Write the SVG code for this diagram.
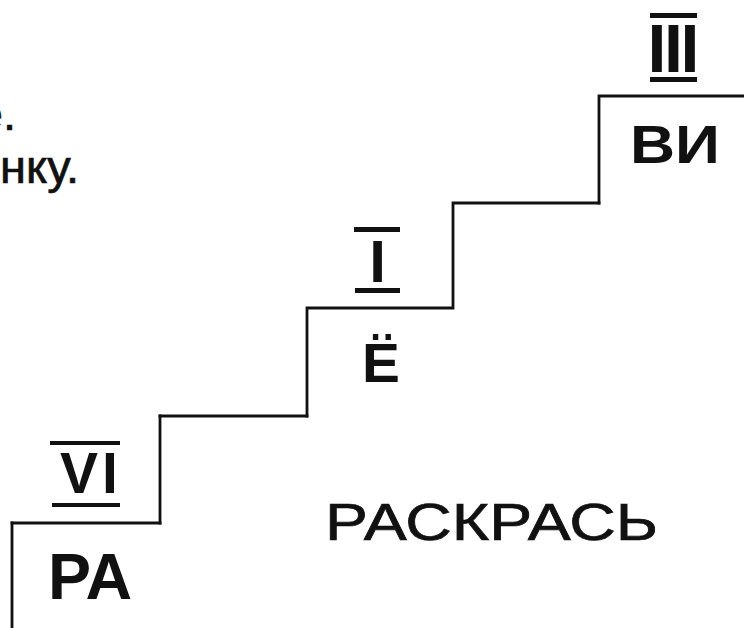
<svg xmlns="http://www.w3.org/2000/svg" width="744" height="628" viewBox="0 0 744 628">
  <style>
    .stair { fill: none; stroke: #111; stroke-width: 2.8; stroke-linecap: square; }
    .dotted { stroke-dasharray: 5 3; }
    .bar { fill: #111; }
    .num { font-family: "Liberation Sans", Arial, sans-serif; font-weight: bold; fill: #111; }
    .syl { font-family: "Liberation Sans", Arial, sans-serif; font-weight: bold; fill: #111; }
    .plain { font-family: "Liberation Sans", Arial, sans-serif; fill: #111; stroke: #111; stroke-width: 0.7; }
  </style>
  <rect width="744" height="628" fill="#fff"/>

  <g id="intro-text">
    <text class="plain" x="16" y="130" font-size="47" text-anchor="end">е.</text>
    <text class="plain" x="79" y="183" font-size="47" text-anchor="end">нку.</text>
  </g>

  <g id="connectors">
    <path class="stair" d="M599,203 V96 H744"/>
    <path class="stair" d="M307,416 V308 H453 V203 H599"/>
    <path class="stair" d="M160,416 H307"/>
    <path class="stair dotted" d="M160,523 V416"/>
    <path class="stair" d="M12,523 H160"/>
    <path class="stair dotted" d="M12,628 V523"/>
  </g>

  <g id="step-vi">
    <rect class="bar" x="650" y="13" width="47" height="5"/>
    <text class="num" x="647.6" y="72" font-size="68" letter-spacing="-2.5">III</text>
    <rect class="bar" x="650" y="77" width="47" height="5"/>
    <text class="syl" x="630" y="163" font-size="54" textLength="90" lengthAdjust="spacingAndGlyphs">ВИ</text>
  </g>

  <g id="step-yo">
    <rect class="bar" x="354" y="227" width="46" height="5"/>
    <text class="num" x="369.2" y="282" font-size="60">I</text>
    <rect class="bar" x="355" y="288" width="45" height="5"/>
    <text class="syl" x="362" y="382" font-size="56" textLength="38" lengthAdjust="spacingAndGlyphs">Ё</text>
  </g>

  <g id="step-ra">
    <rect class="bar" x="50" y="441" width="70" height="4"/>
    <text class="num" x="60" y="493" font-size="57" letter-spacing="4">VI</text>
    <rect class="bar" x="52" y="503" width="68" height="4"/>
    <text class="syl" x="48" y="599" font-size="65" textLength="84" lengthAdjust="spacingAndGlyphs">РА</text>
  </g>

  <g id="caption">
    <text class="plain" x="325" y="540" font-size="52" textLength="333" lengthAdjust="spacingAndGlyphs" stroke-width="0.6">РАСКРАСЬ</text>
  </g>
</svg>
